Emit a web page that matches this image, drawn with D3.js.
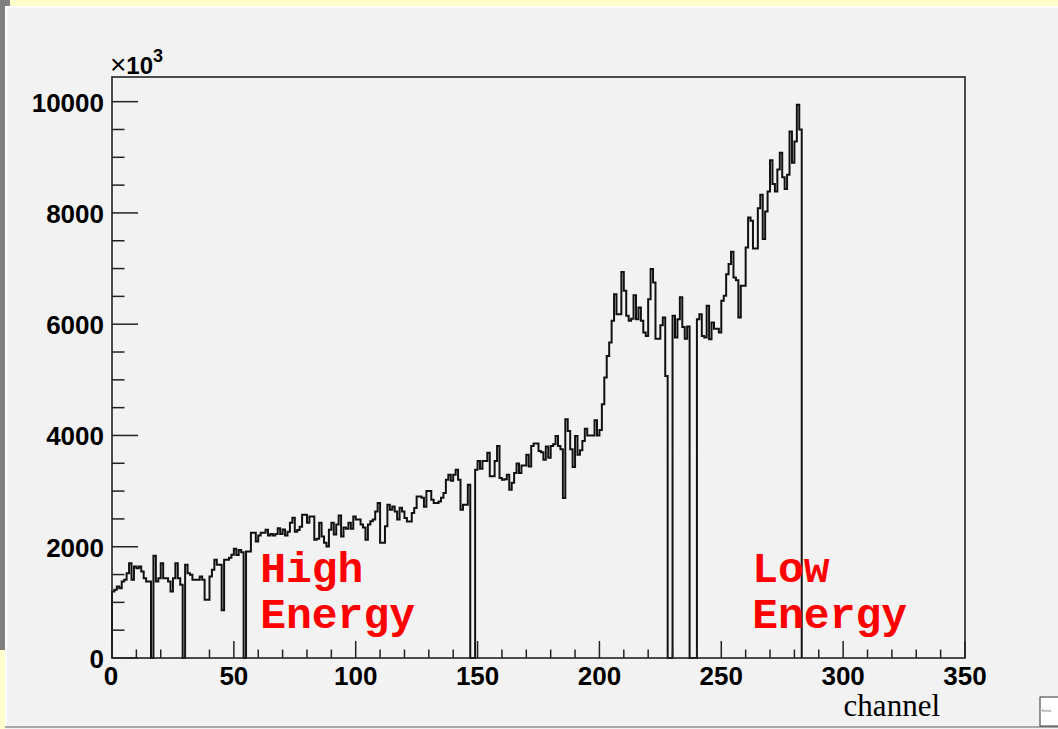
<!DOCTYPE html>
<html>
<head>
<meta charset="utf-8">
<script src="https://cdn.jsdelivr.net/npm/d3@7"></script>
<style>
  html, body { margin: 0; padding: 0; background: #f2f2f2; }
  svg { display: block; }
</style>
</head>
<body>
<svg id="chart" width="1058" height="729"></svg>
<script>
// ---- data (values in units of 10^3, one bin per channel starting at channel 0) ----
const counts = [
  1195, 1225, 1285, 1255, 1375, 1405, 1525, 1705, 1405, 1645,
  1615, 1645, 1555, 1435, 1375, 1375, 0, 1838, 1375, 1435,
  1705, 1435, 1435, 1375, 1195, 1435, 1705, 1435, 1315, 0,
  1675, 1525, 1495, 1405, 1405, 1405, 1465, 1405, 1045, 1045,
  1465, 1585, 1765, 1675, 1675, 860, 1765, 1765, 1800, 1855,
  1965, 1850, 1940, 1900, 0, 1915, 1915, 2250, 2250, 2095,
  2200, 2250, 2250, 2305, 2200, 2230, 2200, 2230, 2330, 2230,
  2310, 2200, 2270, 2430, 2520, 2270, 2300, 2360, 2575, 2575,
  2430, 2545, 2545, 2125, 2145, 2430, 2185, 2070, 2005, 2305,
  2430, 2220, 2400, 2560, 2185, 2345, 2325, 2430, 2325, 2545,
  2490, 2490, 2400, 2345, 2125, 2400, 2460, 2490, 2635, 2785,
  2070, 2070, 2370, 2755, 2665, 2725, 2635, 2490, 2700, 2635,
  2515, 2455, 2455, 2605, 2695, 2905, 2905, 2880, 2720, 3000,
  3000, 2845, 2785, 2785, 2815, 2880, 2965, 3205, 3295, 3185,
  3295, 3385, 3205, 2665, 2755, 2755, 3115, 0, 0, 3385,
  3540, 3400, 3540, 3540, 3690, 3265, 3265, 3540, 3810, 3235,
  3205, 3215, 3295, 3025, 3150, 3325, 3495, 3325, 3460, 3460,
  3655, 3440, 3810, 3855, 3855, 3720, 3700, 3565, 3800, 3600,
  3810, 3840, 3990, 3810, 3750, 2875, 4290, 4080, 3750, 3435,
  3990, 3655, 3735, 3900, 4120, 4000, 4000, 4000, 4275, 4000,
  4100, 4560, 5040, 5430, 5670, 6060, 6540, 6180, 6180, 6940,
  6600, 6150, 6060, 6100, 6520, 6090, 6300, 6060, 5850, 5790,
  6450, 6990, 6750, 5740, 5740, 5980, 6120, 5070, 0, 0,
  6150, 5760, 6090, 6486, 5950, 5740, 5960, 0, 0, 0,
  6090, 6180, 5790, 5760, 6330, 5730, 6030, 5920, 5920, 5850,
  6420, 6510, 6900, 7080, 7300, 6840, 6790, 6120, 6690, 6690,
  7380, 7920, 7860, 7360, 7360, 8085, 8325, 7530, 8025, 8385,
  8945, 8520, 8385, 8780, 9080, 8640, 8430, 8685, 9465, 8900,
  9285, 9946, 9500
];
const xTickValues = [0, 50, 100, 150, 200, 250, 300, 350];
const yTickValues = [0, 2000, 4000, 6000, 8000, 10000];
const xTitle = "channel";
const yExponent = "3";
const annotations = [
  { lines: ["High", "Energy"], channel: 60.8 },
  { lines: ["Low", "Energy"], channel: 262.7 }
];

// ---- layout ----
const W = 1058, H = 729;
const frame = { left: 112, right: 965, top: 77, bottom: 658 };
const svg = d3.select("#chart");

// page decoration (pad borders)
svg.append("rect").attr("x", 0).attr("y", 0).attr("width", W).attr("height", H).attr("fill", "#f2f2f2");
svg.append("rect").attr("x", 0).attr("y", 0).attr("width", W).attr("height", 6).attr("fill", "#ffffcc");
svg.append("rect").attr("x", 0).attr("y", 0).attr("width", 10).attr("height", 6).attr("fill", "#808080");
svg.append("rect").attr("x", 0).attr("y", 0).attr("width", 5).attr("height", 650).attr("fill", "#808080");
svg.append("rect").attr("x", 0).attr("y", 650).attr("width", 5).attr("height", H - 650).attr("fill", "#ffffcc");
svg.append("rect").attr("x", 5).attr("y", 6).attr("width", 2).attr("height", 721).attr("fill", "#ffffff");
svg.append("rect").attr("x", 5).attr("y", 6).attr("width", W - 5).attr("height", 1.5).attr("fill", "#ffffff");
svg.append("rect").attr("x", 5).attr("y", 726).attr("width", W - 5).attr("height", 2).attr("fill", "#a8a8a8");

// scales
const yMax = d3.max(counts) * 1.05;
const x = d3.scaleLinear().domain([0, 350]).range([frame.left, frame.right]);
const y = d3.scaleLinear().domain([0, yMax]).range([frame.bottom, frame.top]);

// histogram outline
const p = d3.path();
p.moveTo(x(0), y(0));
counts.forEach((v, i) => {
  p.lineTo(x(i), y(v));
  p.lineTo(x(i + 1), y(v));
});
p.lineTo(x(counts.length), y(0));
svg.append("path").attr("d", p.toString())
  .attr("fill", "none").attr("stroke", "#111").attr("stroke-width", 2)
  .attr("stroke-linejoin", "miter");

// frame
svg.append("rect")
  .attr("x", frame.left).attr("y", frame.top)
  .attr("width", frame.right - frame.left).attr("height", frame.bottom - frame.top)
  .attr("fill", "none").attr("stroke", "#222").attr("stroke-width", 1.6);

const labelFont = "'Liberation Sans', Arial, Helvetica, sans-serif";

// x axis ticks (inside, upward)
const xAxis = svg.append("g");
d3.range(0, 351, 10).forEach(t => {
  const major = xTickValues.includes(t);
  xAxis.append("line")
    .attr("x1", x(t)).attr("x2", x(t))
    .attr("y1", frame.bottom).attr("y2", frame.bottom - (major ? 17 : 8.5))
    .attr("stroke", "#222").attr("stroke-width", 1.5);
});
xAxis.selectAll("text.xl").data(xTickValues).enter().append("text")
  .attr("x", d => x(d) - (d === 0 ? 1 : 0)).attr("y", frame.bottom + 27)
  .attr("text-anchor", "middle")
  .attr("font-family", labelFont).attr("font-weight", "bold").attr("font-size", 26)
  .attr("fill", "#000")
  .text(d => d);

// y axis ticks (inside, rightward)
const yAxis = svg.append("g");
d3.range(0, 10001, 500).forEach(t => {
  const major = yTickValues.includes(t);
  yAxis.append("line")
    .attr("x1", frame.left).attr("x2", frame.left + (major ? 26 : 12.5))
    .attr("y1", y(t)).attr("y2", y(t))
    .attr("stroke", "#222").attr("stroke-width", 1.5);
});
yAxis.selectAll("text.yl").data(yTickValues).enter().append("text")
  .attr("x", frame.left - 8).attr("y", d => y(d) + 10)
  .attr("text-anchor", "end")
  .attr("font-family", labelFont).attr("font-weight", "bold").attr("font-size", 26)
  .attr("fill", "#000")
  .text(d => d);

// exponent label
const ex = svg.append("text")
  .attr("x", frame.left - 2).attr("y", 74)
  .attr("font-family", labelFont).attr("font-size", 24).attr("fill", "#000");
ex.append("tspan").text("\u00d7").attr("font-weight", "normal").attr("font-size", 28);
ex.append("tspan").text("10").attr("font-weight", "bold");
ex.append("tspan").text(yExponent).attr("font-weight", "bold").attr("font-size", 18).attr("dy", -12);

// x title
svg.append("text")
  .attr("x", 940).attr("y", 716)
  .attr("text-anchor", "end")
  .attr("font-family", "'Liberation Serif', 'Times New Roman', serif")
  .attr("font-size", 31).attr("fill", "#000")
  .text(xTitle);

// annotations
annotations.forEach(a => {
  a.lines.forEach((ln, k) => {
    svg.append("text")
      .attr("x", x(a.channel)).attr("y", 582 + k * 46)
      .attr("font-family", "'Liberation Mono', 'Courier New', monospace")
      .attr("font-weight", "bold").attr("font-size", 43)
      .attr("fill", "#ff0000")
      .text(ln);
  });
});

// tiny (truncated) stats box in bottom-right corner
svg.append("rect").attr("x", 1040).attr("y", 697).attr("width", 20).attr("height", 29)
  .attr("fill", "#ffffff").attr("stroke", "#333").attr("stroke-width", 1);
svg.append("text").attr("x", 1042).attr("y", 712)
  .attr("font-family", labelFont).attr("font-size", 3).attr("fill", "#555")
  .text("Entries");
</script>
</body>
</html>
